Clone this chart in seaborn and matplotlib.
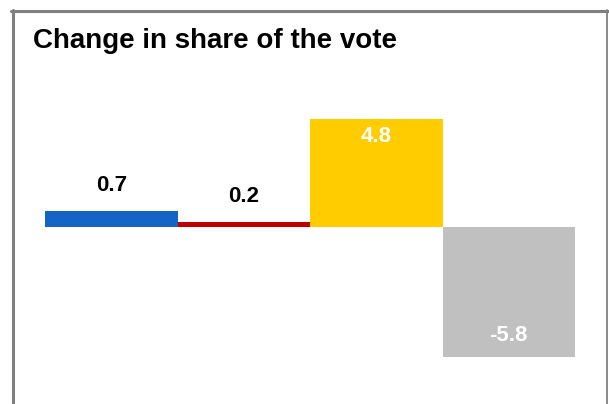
import matplotlib
matplotlib.use("Agg")
import matplotlib.pyplot as plt
from matplotlib.lines import Line2D
from matplotlib import font_manager
import seaborn as sns
import pandas as pd

categories = ["A", "B", "C", "D"]
values = [0.7, 0.2, 4.8, -5.8]
labels = ["0.7", "0.2", "4.8", "-5.8"]
colors = ["#1464C8", "#C00000", "#FFCC00", "#C0C0C0"]
label_colors = ["black", "black", "white", "white"]
title = "Change in share of the vote"

names = {f.name for f in font_manager.fontManager.ttflist}
narrow = "Liberation Sans Narrow" if "Liberation Sans Narrow" in names else "Liberation Sans"

sns.set_style("white")
plt.rcParams["font.family"] = [narrow, "DejaVu Sans"]

W, H = 609, 404
fig = plt.figure(figsize=(W / 100, H / 100), dpi=100)
ax = fig.add_axes([45 / W, 24 / H, 530 / W, 280 / H])

df = pd.DataFrame({"cat": categories, "val": values})
sns.barplot(data=df, x="cat", y="val", hue="cat", palette=colors,
            width=1.0, saturation=1, legend=False, ax=ax, linewidth=0)

ax.set_xlim(-0.5, 3.5)
ax.set_ylim(-6.8, 5.644)
ax.axis("off")

for i, (v, lab, c) in enumerate(zip(values, labels, label_colors)):
    if abs(v) < 2:
        ax.annotate(lab, (i, v), xytext=(0, 11), textcoords="offset points",
                    ha="center", va="bottom", fontsize=16, fontweight="bold", color=c)
    elif v > 0:
        ax.annotate(lab, (i, v), xytext=(0, -5), textcoords="offset points",
                    ha="center", va="top", fontsize=16, fontweight="bold", color=c)
    else:
        ax.annotate(lab, (i, v), xytext=(0, 8), textcoords="offset points",
                    ha="center", va="bottom", fontsize=16, fontweight="bold", color=c)

fig.text(33 / W, 1 - 48 / H, title, fontsize=20, fontweight="bold",
         ha="left", va="baseline", color="black")

# frame
fig.add_artist(Line2D([11 / W, 1], [1 - 11 / H, 1 - 11 / H], color="#808080", lw=2.2,
                      transform=fig.transFigure))
fig.add_artist(Line2D([13 / W, 13 / W], [0, 1 - 10 / H], color="#808080", lw=2.2,
                      transform=fig.transFigure))
fig.add_artist(Line2D([607 / W, 607 / W], [0, 1 - 10 / H], color="#808080", lw=1.3,
                      transform=fig.transFigure))

fig.savefig("out.png", dpi=100)
